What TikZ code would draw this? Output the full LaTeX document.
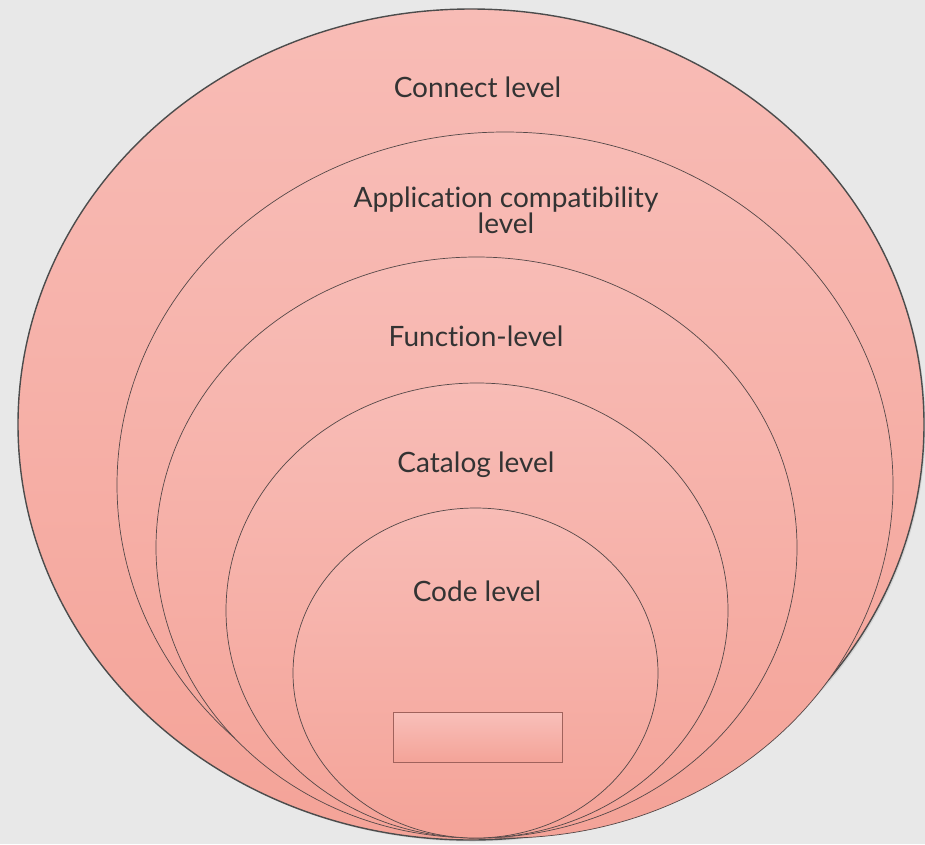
\documentclass[tikz,border=0pt]{standalone}
\usepackage{fontspec}
\setmainfont[Ligatures={NoCommon,NoContextual}]{Lato}
\usepackage{tikz}
\usetikzlibrary{shapes.geometric, shadows}
\definecolor{bggray}{RGB}{232,232,232}
\definecolor{pinktop}{RGB}{248,188,182}
\definecolor{pinkbot}{RGB}{244,163,152}
\definecolor{rimgray}{RGB}{85,72,72}
\definecolor{boxrim}{RGB}{160,98,92}
\tikzstyle{levelring} = [ellipse, inner sep=0pt, top color=pinktop, bottom color=pinkbot, draw=rimgray, line width=0.7pt]
\tikzstyle{levelname} = [font=\fontsize{28}{26}\selectfont, text=black!80, align=center, inner sep=0pt]
\tikzstyle{slot} = [rectangle, inner sep=0pt, top color=pinktop!95!white, bottom color=pinkbot, draw=boxrim, line width=0.8pt]

\begin{document}
\begin{tikzpicture}[x=1pt, y=-1pt]
			\useasboundingbox (0,0) rectangle (925,844);
			\fill [bggray] (0,0) rectangle (925,844);
			% rings, outer to inner, all touching at the bottom
			\node (connect) [levelring, line width=1.4pt, draw=black!70, minimum width=906pt, minimum height=831pt,
				drop shadow={shadow xshift=1.5pt, shadow yshift=-1.5pt, opacity=0.2}] at (471,424.5) {};
			\node (application) [levelring, minimum width=776pt, minimum height=706pt] at (505,485) {};
			\node (function) [levelring, minimum width=641pt, minimum height=581pt] at (476.5,547.5) {};
			\node (catalog) [levelring, minimum width=502pt, minimum height=455pt] at (477,610.5) {};
			\node (code) [levelring, minimum width=365pt, minimum height=330pt] at (475.5,673) {};
			\node (codebox) [slot, minimum width=169pt, minimum height=50pt] at (477.5,737) {};
			% names
			\node (connecttxt) [levelname] at (477.5,87) {Connect level};
			\node (applicationtxt) [levelname] at (506,210) {Application compatibility\\level};
			\node (functiontxt) [levelname] at (476,336) {Function-level};
			\node (catalogtxt) [levelname] at (476,465) {Catalog level};
			\node (codetxt) [levelname] at (477,591) {Code level};
		\end{tikzpicture}
\end{document}
